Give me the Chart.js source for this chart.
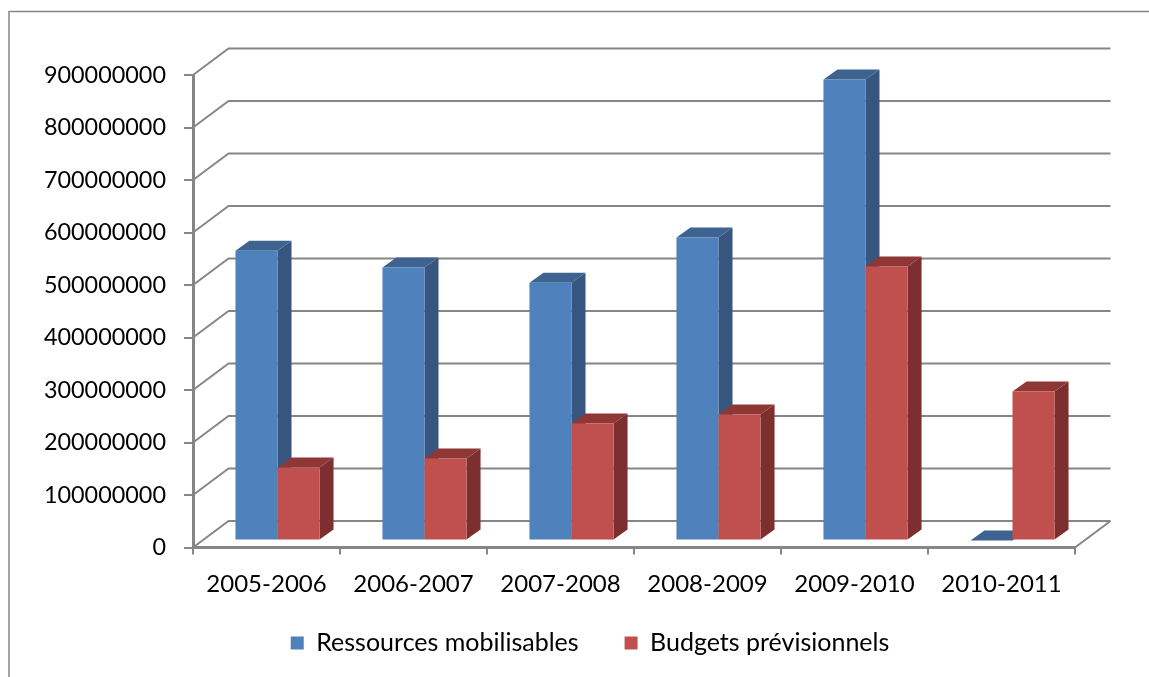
<!DOCTYPE html>
<html>
<head>
<meta charset="utf-8">
<style>
  html, body { margin: 0; padding: 0; background: #fff; }
  canvas { display: block; }
</style>
<script src="https://cdn.jsdelivr.net/npm/chart.js@4/dist/chart.umd.min.js"></script>
</head>
<body>
<canvas id="chart" width="1149" height="677"></canvas>
<script>
const categories = ["2005-2006", "2006-2007", "2007-2008", "2008-2009", "2009-2010", "2010-2011"];
const ressources = [552000000, 520000000, 491000000, 577000000, 878000000, 0];
const budgets = [139000000, 156000000, 223000000, 240000000, 522000000, 284000000];
const yTicks = [0, 100000000, 200000000, 300000000, 400000000, 500000000, 600000000, 700000000, 800000000, 900000000];

const AXIS = "#868686";
const WALL = { dx: 35.5, dy: -26.5 };   // depth of the back wall
const BAR_DEPTH = { dx: 14, dy: -10 };  // depth of each bar
const BAR_SHIFT = { dx: 11, dy: -7 };   // bars stand in the middle of the floor
const PLOT_BOTTOM = 547.5;
const LEGEND_CENTER = { x: 590, y: 625 };

// fake 3D: frame, back wall, and bars with a side and top face
const chart3d = {
  id: "chart3d",
  beforeDraw(chart) {
    const ctx = chart.ctx;
    ctx.save();
    ctx.strokeStyle = AXIS;
    ctx.lineWidth = 1.5;
    ctx.beginPath();
    ctx.moveTo(9, 677);
    ctx.lineTo(9, 11.5);
    ctx.lineTo(1149, 11.5);
    ctx.stroke();
    ctx.restore();
  },
  afterLayout(chart) {
    const lg = chart.legend;
    const dx = LEGEND_CENTER.x - (lg.left + lg.right) / 2;
    const dy = LEGEND_CENTER.y - (lg.top + lg.bottom) / 2;
    lg.left += dx;
    lg.right += dx;
    lg.top += dy;
    lg.bottom += dy;
    lg.adjustHitBoxes();
  },
  beforeDatasetsDraw(chart) {
    const { ctx, chartArea: area } = chart;
    const yScale = chart.scales.y;
    ctx.save();
    ctx.strokeStyle = AXIS;
    ctx.lineWidth = 2;
    ctx.lineJoin = "round";
    yScale.ticks.forEach((t) => {
      const y = yScale.getPixelForValue(t.value);
      ctx.beginPath();
      ctx.moveTo(area.left, y);
      ctx.lineTo(area.left + WALL.dx, y + WALL.dy);
      ctx.lineTo(area.right + WALL.dx, y + WALL.dy);
      ctx.stroke();
    });
    ctx.beginPath();
    ctx.moveTo(area.right, area.bottom);
    ctx.lineTo(area.right + WALL.dx, area.bottom + WALL.dy);
    ctx.stroke();
    ctx.restore();

    // draw datasets in index order so that red covers the blue side faces
    chart.data.datasets.forEach((ds, i) => {
      const meta = chart.getDatasetMeta(i);
      ctx.save();
      ctx.translate(BAR_SHIFT.dx, BAR_SHIFT.dy);
      meta.data.forEach((bar) => {
        const x1 = bar.x - bar.width / 2;
        const x2 = bar.x + bar.width / 2;
        ctx.fillStyle = ds.sideColor;
        ctx.beginPath();
        ctx.moveTo(x2, bar.base);
        ctx.lineTo(x2 + BAR_DEPTH.dx, bar.base + BAR_DEPTH.dy);
        ctx.lineTo(x2 + BAR_DEPTH.dx, bar.y + BAR_DEPTH.dy);
        ctx.lineTo(x2, bar.y);
        ctx.closePath();
        ctx.fill();
        ctx.fillStyle = ds.topColor;
        ctx.beginPath();
        ctx.moveTo(x1, bar.y);
        ctx.lineTo(x1 + BAR_DEPTH.dx, bar.y + BAR_DEPTH.dy);
        ctx.lineTo(x2 + BAR_DEPTH.dx, bar.y + BAR_DEPTH.dy);
        ctx.lineTo(x2, bar.y);
        ctx.closePath();
        ctx.fill();
      });
      meta.controller.draw();
      ctx.restore();
    });
    return false;
  },
};

new Chart(document.getElementById("chart"), {
  type: "bar",
  data: {
    labels: categories,
    datasets: [
      {
        label: "Ressources mobilisables",
        data: ressources,
        backgroundColor: "#4f81bd",
        sideColor: "#36567f",
        topColor: "#3e6390",
      },
      {
        label: "Budgets prévisionnels",
        data: budgets,
        backgroundColor: "#c0504d",
        sideColor: "#7c2f2e",
        topColor: "#8f3735",
      },
    ],
  },
  plugins: [chart3d],
  options: {
    responsive: false,
    animation: false,
    categoryPercentage: 0.572,
    barPercentage: 1,
    layout: { padding: { left: 0, right: 74, top: 75, bottom: 0 } },
    plugins: {
      title: { display: false },
      tooltip: { enabled: false },
      legend: {
        position: "bottom",
        labels: {
          boxWidth: 13,
          boxHeight: 13,
          padding: 46,
          color: "#000",
          font: { family: "Lato", size: 25 },
        },
      },
    },
    scales: {
      x: {
        afterFit: (s) => {
          s.height = s.chart.height - PLOT_BOTTOM - s.chart.legend.height;
        },
        grid: { color: AXIS, lineWidth: 2, tickLength: 7, drawOnChartArea: false },
        border: { color: AXIS, width: 3 },
        ticks: {
          color: "#000",
          padding: 15,
          maxRotation: 0,
          font: { family: "Lato", size: 24 },
        },
      },
      y: {
        min: 0,
        max: 900000000,
        afterFit: (s) => { s.width = 193; },
        afterBuildTicks: (s) => { s.ticks = yTicks.map((value) => ({ value })); },
        grid: { color: AXIS, lineWidth: 2, tickLength: 9, drawOnChartArea: false },
        border: { color: AXIS, width: 3 },
        ticks: {
          color: "#000",
          padding: 18,
          callback: (v) => String(v),
          font: { family: "Lato", size: 23.4 },
        },
      },
    },
  },
});
</script>
</body>
</html>
